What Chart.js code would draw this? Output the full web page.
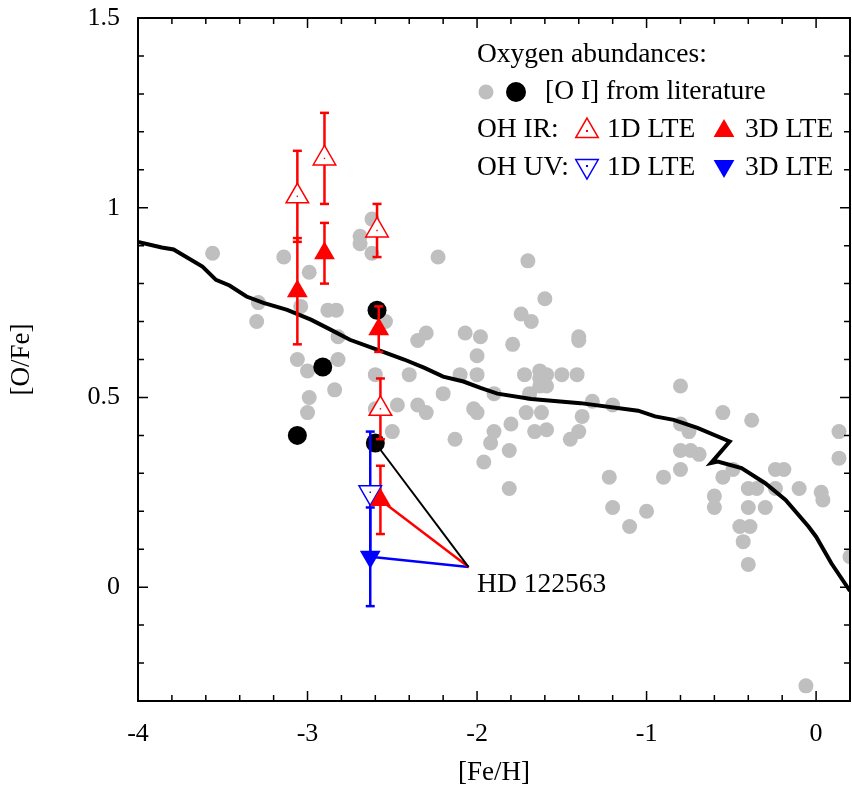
<!DOCTYPE html>
<html>
<head>
<meta charset="utf-8">
<script src="https://cdn.jsdelivr.net/npm/chart.js@4.4.1/dist/chart.umd.min.js"></script>
<style>
html, body { margin: 0; padding: 0; background: #fff; }
</style>
</head>
<body>
<canvas id="oxygenChart" width="852" height="787"></canvas>
<script>
// [O I] da literatura (pontos cinza)
const litFeH = [-3.56, -3.14, -2.99, -2.69, -2.69, -2.62, -2.62, -2.23, -3.29, -3.30,
    -3.04, -2.88, -2.83, -2.82, -3.06, -3.00, -2.82, -2.84, -2.99, -3.00,
    -2.54, -2.60, -2.60, -2.47, -2.50, -2.40, -2.35, -2.30, -2.20, -2.35,
    -2.30, -2.07, -1.98, -2.00, -2.10, -2.00, -2.02, -2.00, -2.13, -1.96,
    -1.70, -1.60, -1.74, -1.68, -1.79, -1.40, -1.40, -1.72, -1.63, -1.59,
    -1.63, -1.50, -1.41, -1.69, -1.63, -1.59, -1.90, -1.32, -1.20, -1.71,
    -1.62, -1.38, -1.80, -1.90, -1.92, -1.66, -1.59, -1.45, -1.40, -1.81,
    -1.81, -1.22, -1.20, -1.00, -1.10, -0.90, -0.80, -0.80, -0.75, -0.80,
    -0.74, -0.69, -0.80, -0.55, -0.38, -0.55, -0.49, -0.60, -0.60, -0.40,
    -0.35, -0.24, -0.19, -0.24, -0.10, 0.03, 0.04, -0.40, -0.30, -0.45,
    -0.39, 0.135, 0.135, -0.43, -0.40, 0.20, -0.06];
const litOFe = [0.88, 0.87, 0.83, 0.925, 0.905, 0.97, 0.88, 0.87, 0.75, 0.70,
    0.74, 0.73, 0.73, 0.66, 0.60, 0.57, 0.60, 0.52, 0.50, 0.46,
    0.70, 0.56, 0.47, 0.48, 0.41, 0.56, 0.65, 0.67, 0.51, 0.48,
    0.46, 0.67, 0.66, 0.61, 0.56, 0.56, 0.47, 0.46, 0.39, 0.33,
    0.86, 0.76, 0.72, 0.70, 0.64, 0.66, 0.65, 0.56, 0.57, 0.56,
    0.55, 0.56, 0.56, 0.51, 0.53, 0.53, 0.51, 0.49, 0.48, 0.46,
    0.46, 0.45, 0.43, 0.41, 0.38, 0.41, 0.415, 0.39, 0.41, 0.36,
    0.26, 0.29, 0.21, 0.20, 0.16, 0.29, 0.53, 0.43, 0.41, 0.36,
    0.36, 0.35, 0.31, 0.46, 0.44, 0.29, 0.31, 0.24, 0.21, 0.26,
    0.26, 0.31, 0.31, 0.26, 0.26, 0.25, 0.23, 0.21, 0.21, 0.16,
    0.16, 0.41, 0.34, 0.12, 0.06, 0.08, -0.26];

// [O I] pontos pretos
const blackFeH = [-3.06, -2.91, -2.59, -2.60];
const blackOFe = [0.40, 0.58, 0.73, 0.38];

// OH IR
const ir1dFeH = [-3.06, -2.90, -2.59, -2.57];
const ir1dOFe = [1.03, 1.13, 0.94, 0.47];
const ir1dErr = [0.12, 0.12, 0.07, 0.08];
const ir3dFeH = [-3.06, -2.90, -2.58, -2.57];
const ir3dOFe = [0.78, 0.88, 0.68, 0.23];
const ir3dErr = [0.14, 0.08, 0.06, 0.09];

// OH UV
const uv1dFeH = [-2.63];
const uv1dOFe = [0.25];
const uv1dErr = [0.16];
const uv3dFeH = [-2.63];
const uv3dOFe = [0.08];
const uv3dErr = [0.13];

// curva do modelo
const modelFeH = [-4.0, -3.86, -3.79, -3.62, -3.54, -3.46, -3.36, -3.26, -3.12, -2.98, -2.87,
    -2.75, -2.59, -2.43, -2.31, -2.20, -2.08, -1.98, -1.88, -1.68, -1.39,
    -1.05, -0.95, -0.84, -0.70, -0.51, -0.62, -0.58, -0.44, -0.30, -0.18,
    -0.045, 0.0, 0.09, 0.2];
const modelOFe = [0.91, 0.895, 0.89, 0.845, 0.81, 0.795, 0.766, 0.749, 0.731, 0.705, 0.68,
    0.652, 0.626, 0.60, 0.578, 0.555, 0.542, 0.525, 0.51, 0.496, 0.485,
    0.465, 0.45, 0.441, 0.42, 0.384, 0.327, 0.331, 0.314, 0.274, 0.23,
    0.16, 0.133, 0.063, -0.01];

// HD 122563
const hdName = 'HD 122563';
const hdFeH = -2.05;
const hdOFe = 0.053;

// rótulos dos eixos
const xTickLabels = [-4, -3, -2, -1, 0];
const yTickLabels = [1.5, 1, 0.5, 0];

const SERIF = '"Liberation Serif", "Times New Roman", serif';
const GRAY = '#bfbfbf';

function pontos(xs, ys) {
    return xs.map((x, i) => ({ x: x, y: ys[i] }));
}

function barrasDeErro(xs, ys, errs, cor) {
    return xs.map((x, i) => ({
        data: [{ x: x, y: ys[i] - errs[i] }, { x: x, y: ys[i] + errs[i] }],
        showLine: true,
        borderColor: cor,
        borderWidth: 2.5,
        pointStyle: 'line',
        pointRadius: 4.5,
        pointBorderColor: cor,
        pointBorderWidth: 2.5,
        order: 50
    }));
}

function ligacao(x, y, cor, largura) {
    return {
        data: [{ x: hdFeH, y: hdOFe }, { x: x, y: y }],
        showLine: true,
        borderColor: cor,
        borderWidth: largura,
        pointRadius: 0,
        order: 80
    };
}

const datasets = [
    {
        label: 'lit',
        data: pontos(litFeH, litOFe),
        pointStyle: 'circle',
        pointRadius: 7.5,
        backgroundColor: GRAY,
        borderWidth: 0,
        order: 100
    },
    {
        label: 'model',
        data: pontos(modelFeH, modelOFe),
        showLine: true,
        borderColor: '#000',
        borderWidth: 4,
        pointRadius: 0,
        tension: 0,
        order: 90
    },
    ligacao(blackFeH[3], blackOFe[3], '#000', 2),
    ligacao(ir3dFeH[3], ir3dOFe[3], '#ff0000', 2.5),
    ligacao(uv3dFeH[0], uv3dOFe[0], '#0000ff', 2.5),
    {
        label: 'black',
        data: pontos(blackFeH, blackOFe),
        pointStyle: 'circle',
        pointRadius: 9.5,
        backgroundColor: '#000',
        borderWidth: 0,
        order: 70
    },
    ...barrasDeErro(ir1dFeH, ir1dOFe, ir1dErr, '#ff0000'),
    ...barrasDeErro(ir3dFeH, ir3dOFe, ir3dErr, '#ff0000'),
    ...barrasDeErro(uv1dFeH, uv1dOFe, uv1dErr, '#0000ff'),
    ...barrasDeErro(uv3dFeH, uv3dOFe, uv3dErr, '#0000ff'),
    {
        label: 'ir1d',
        data: pontos(ir1dFeH, ir1dOFe),
        pointStyle: 'triangle',
        pointRadius: 13,
        backgroundColor: '#fff',
        borderColor: '#ff0000',
        borderWidth: 1.5,
        order: 20
    },
    {
        label: 'ir3d',
        data: pontos(ir3dFeH, ir3dOFe),
        pointStyle: 'triangle',
        pointRadius: 12,
        backgroundColor: '#ff0000',
        borderWidth: 0,
        order: 20
    },
    {
        label: 'uv1d',
        data: pontos(uv1dFeH, uv1dOFe),
        pointStyle: 'triangle',
        rotation: 180,
        pointRadius: 13,
        backgroundColor: '#fff',
        borderColor: '#0000ff',
        borderWidth: 1.5,
        order: 20
    },
    {
        label: 'uv3d',
        data: pontos(uv3dFeH, uv3dOFe),
        pointStyle: 'triangle',
        rotation: 180,
        pointRadius: 12,
        backgroundColor: '#0000ff',
        borderWidth: 0,
        order: 20
    },
    // pontinho no centro dos triângulos abertos
    {
        data: pontos(ir1dFeH, ir1dOFe),
        pointStyle: 'rect',
        pointRadius: 1,
        backgroundColor: '#ff0000',
        borderWidth: 0,
        order: 10
    },
    {
        data: pontos(uv1dFeH, uv1dOFe),
        pointStyle: 'rect',
        pointRadius: 1,
        backgroundColor: '#0000ff',
        borderWidth: 0,
        order: 10
    }
];

function ehRotulo(lista, v) {
    return lista.some(t => Math.abs(t - v) < 1e-6);
}

// moldura, ticks para dentro, legenda e texto HD
const molduraPlugin = {
    id: 'moldura',
    afterDatasetsDraw(chart) {
        const { ctx, chartArea: a, scales: { x, y } } = chart;
        ctx.save();
        ctx.strokeStyle = '#000';
        ctx.lineWidth = 1.5;
        ctx.beginPath();
        x.ticks.forEach(t => {
            const px = x.getPixelForValue(t.value);
            const len = ehRotulo(xTickLabels, t.value) ? 10 : 6;
            ctx.moveTo(px, a.bottom); ctx.lineTo(px, a.bottom - len);
            ctx.moveTo(px, a.top); ctx.lineTo(px, a.top + len);
        });
        y.ticks.forEach(t => {
            const py = y.getPixelForValue(t.value);
            const len = ehRotulo(yTickLabels, t.value) ? 10 : 6;
            ctx.moveTo(a.left, py); ctx.lineTo(a.left + len, py);
            ctx.moveTo(a.right, py); ctx.lineTo(a.right - len, py);
        });
        ctx.stroke();
        ctx.lineWidth = 2;
        ctx.strokeRect(a.left, a.top, a.right - a.left, a.bottom - a.top);

        // HD 122563
        ctx.fillStyle = '#000';
        ctx.font = '27.5px ' + SERIF;
        ctx.textBaseline = 'middle';
        ctx.textAlign = 'left';
        ctx.fillText(hdName, x.getPixelForValue(-2.0), y.getPixelForValue(0.005));

        // legenda
        const draw = Chart.helpers.drawPoint;
        const lx = 477;
        ctx.fillText('Oxygen abundances:', lx, 55);

        ctx.fillStyle = GRAY;
        draw(ctx, { pointStyle: 'circle', radius: 7.5, rotation: 0, borderWidth: 0 }, 486, 92);
        ctx.fillStyle = '#000';
        draw(ctx, { pointStyle: 'circle', radius: 10, rotation: 0, borderWidth: 0 }, 516, 92);
        ctx.fillText('[O I] from literature', 545, 92);

        ctx.fillText('OH IR:', lx, 130);
        ctx.fillStyle = '#fff';
        ctx.strokeStyle = '#ff0000';
        ctx.lineWidth = 1.5;
        draw(ctx, { pointStyle: 'triangle', radius: 13, rotation: 0, borderWidth: 1.5 }, 587, 131);
        ctx.fillStyle = '#ff0000';
        ctx.fillRect(586, 130, 2, 2);
        draw(ctx, { pointStyle: 'triangle', radius: 12, rotation: 0, borderWidth: 0 }, 724, 131);
        ctx.fillStyle = '#000';
        ctx.fillText('1D LTE', 607, 130);
        ctx.fillText('3D LTE', 745, 130);

        ctx.fillText('OH UV:', lx, 168);
        ctx.fillStyle = '#fff';
        ctx.strokeStyle = '#0000ff';
        draw(ctx, { pointStyle: 'triangle', radius: 13, rotation: 180, borderWidth: 1.5 }, 587, 166);
        ctx.fillStyle = '#0000ff';
        ctx.fillRect(586, 165, 2, 2);
        draw(ctx, { pointStyle: 'triangle', radius: 12, rotation: 180, borderWidth: 0 }, 724, 166);
        ctx.fillStyle = '#000';
        ctx.fillText('1D LTE', 607, 168);
        ctx.fillText('3D LTE', 745, 168);
        ctx.restore();
    }
};

function semPadding(scale) {
    scale.paddingTop = 0;
    scale.paddingBottom = 0;
    scale.paddingLeft = 0;
    scale.paddingRight = 0;
}

const ctx = document.getElementById('oxygenChart').getContext('2d');
const chart = new Chart(ctx, {
    type: 'scatter',
    data: { datasets: datasets },
    options: {
        responsive: false,
        animation: false,
        events: [],
        layout: { autoPadding: false, padding: { top: 18, right: 2, left: 0, bottom: 0 } },
        plugins: {
            legend: { display: false },
            tooltip: { enabled: false }
        },
        scales: {
            x: {
                type: 'linear',
                min: -4,
                max: 0.2,
                grid: { display: false, drawTicks: false },
                border: { display: false },
                ticks: {
                    stepSize: 0.2,
                    autoSkip: false,
                    maxRotation: 0,
                    padding: 18,
                    color: '#000',
                    font: { family: SERIF, size: 26 },
                    callback: v => ehRotulo(xTickLabels, v) ? String(Math.round(v)) : ''
                },
                title: {
                    display: true,
                    text: '[Fe/H]',
                    color: '#000',
                    font: { family: SERIF, size: 27 },
                    padding: { top: 0, bottom: -2 }
                },
                afterFit: scale => { scale.height = 86; semPadding(scale); }
            },
            y: {
                type: 'linear',
                min: -0.3,
                max: 1.5,
                grid: { display: false, drawTicks: false },
                border: { display: false },
                ticks: {
                    stepSize: 0.1,
                    autoSkip: false,
                    padding: 18,
                    color: '#000',
                    font: { family: SERIF, size: 26 },
                    callback: v => ehRotulo(yTickLabels, v) ? String(Math.round(v * 10) / 10) : ''
                },
                title: {
                    display: true,
                    text: '[O/Fe]',
                    color: '#000',
                    font: { family: SERIF, size: 27 },
                    padding: { top: 6, bottom: 0 }
                },
                afterFit: scale => { scale.width = 138; semPadding(scale); }
            }
        }
    },
    plugins: [molduraPlugin]
});
</script>
</body>
</html>
